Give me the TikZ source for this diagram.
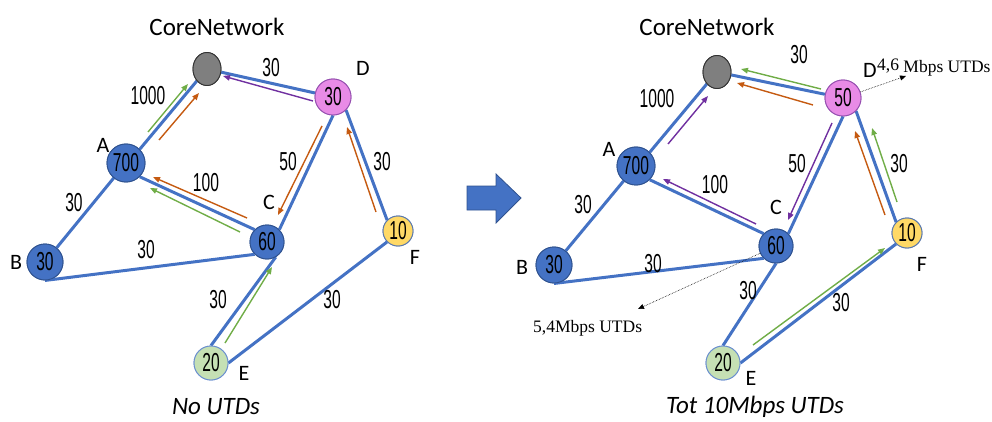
\documentclass[tikz,border=0pt]{standalone}
\usepackage{fontspec}
\setmainfont{Carlito}
\newfontfamily\numfont[FakeStretch=0.6]{Liberation Sans}
\newfontfamily\notefont{Liberation Serif}
\usetikzlibrary{arrows.meta,shapes.geometric}
\definecolor{eblue}{HTML}{4472C4}
\definecolor{dblue}{HTML}{2F528F}
\definecolor{vfill}{HTML}{E88BE6}
\definecolor{vline}{HTML}{9650B0}
\definecolor{yfill}{HTML}{FFD966}
\definecolor{gfill}{HTML}{C5E0B4}
\definecolor{cgray}{HTML}{7F7F7F}
\definecolor{agreen}{HTML}{70AD47}
\definecolor{aorange}{HTML}{C55A11}
\definecolor{apurple}{HTML}{7030A0}
\tikzset{
  num/.style={font=\numfont\fontsize{26}{26}\selectfont, inner sep=0pt},
  nd/.style={circle, inner sep=0pt, line width=0.9pt},
  bluend/.style={nd, fill=eblue, draw=dblue},
  violetnd/.style={nd, minimum size=36pt, fill=vfill, draw=vline},
  yellownd/.style={nd, minimum size=30pt, fill=yfill, draw=eblue!70!gray},
  greennd/.style={nd, minimum size=34pt, fill=gfill, draw=eblue!80},
  corend/.style={ellipse, inner sep=0pt, minimum width=28pt, minimum height=33pt, fill=cgray, draw=black!80, line width=0.9pt},
  letter/.style={font=\fontsize{22}{22}\selectfont, inner sep=0pt},
  title/.style={font=\fontsize{25}{25}\selectfont, inner sep=0pt},
  captionit/.style={font=\itshape\fontsize{25}{25}\selectfont, inner sep=0pt},
  link/.style={draw=eblue, line width=3pt},
  flow/.style={line width=1.4pt, -{Triangle[length=7pt,width=5.5pt]}},
  note/.style={font=\notefont\fontsize{17.5}{17.5}\selectfont, inner sep=0pt},
  ptr/.style={densely dotted, line width=0.6pt, -{Triangle[length=6pt,width=5pt]}}
}
\begin{document}
\begin{tikzpicture}[x=1pt,y=-1pt]
\useasboundingbox (0,0) rectangle (992,422);
% ---------------- LEFT ----------------
\node[title] (t1) at (217,27) {CoreNetwork};
\node[corend] (core) at (207,69) {};
\node[violetnd] (D) at (333,97) {};
\node[bluend, minimum size=38pt] (A) at (126,163) {};
\node[bluend, minimum size=34pt] (C) at (267,242) {};
\node[bluend, minimum size=36pt] (B) at (45,262) {};
\node[yellownd] (F) at (398,231) {};
\node[greennd] (E) at (211,363) {};
% edges
\draw[link] (A.north east) -- (core.south west);
\draw[link] (core) -- (D);
\draw[link] (A.south east) -- (C.north west);
\draw[link] (A) -- (B);
\draw[link] (B.south) -- (C.south west);
\draw[link] (D.south) -- (C.north east);
\draw[link] (D.south east) -- (F.north west);
\draw[link] (C.-60) -- (E.north);
\draw[link] (E.east) -- (F.south west);
% nodes on top
\node[corend] at (core) {};
\node[violetnd, label={[num]center:30}] at (D) {};
\node[bluend, minimum size=38pt, label={[num]center:700}] at (A) {};
\node[bluend, minimum size=34pt, label={[num]center:60}] at (C) {};
\node[bluend, minimum size=36pt, label={[num]center:30}] at (B) {};
\node[yellownd, label={[num]center:10}] at (F) {};
\node[greennd, label={[num]center:20}] at (E) {};
% letters
\node[letter] (lA) at (103,145) {A};
\node[letter] (lD) at (363,68) {D};
\node[letter] (lC) at (269,202) {C};
\node[letter] (lB) at (16,262) {B};
\node[letter] (lF) at (415,257) {F};
\node[letter] (lE) at (244,373) {E};
% edge labels
\node[num] (w1) at (148,96) {1000};
\node[num] (w2) at (271,68) {30};
\node[num] (w3) at (288,162) {50};
\node[num] (w4) at (382,162) {30};
\node[num] (w5) at (206,183) {100};
\node[num] (w6) at (74,203) {30};
\node[num] (w7) at (146,250) {30};
\node[num] (w8) at (218,300) {30};
\node[num] (w9) at (332,300) {30};
% flows
\draw[flow, agreen] (148,132) -- (188,84);
\draw[flow, aorange] (159,140) -- (199,93);
\draw[flow, apurple] (313,101) -- (223,76);
\draw[flow, aorange] (322,126) -- (278,215);
\draw[flow, aorange] (376,212) -- (347,127);
\draw[flow, aorange] (247,218) -- (153,177);
\draw[flow, agreen] (240,232) -- (150,188);
\draw[flow, agreen] (225,343) -- (272,267);
\node[captionit] (cap1) at (216,407) {No UTDs};
% ---------------- ARROW ----------------
\draw[fill=eblue, draw=dblue, line width=0.8pt] (467,186) -- (496,186) -- (496,174) -- (521,198) -- (496,223) -- (496,210) -- (467,210) -- cycle;
% ---------------- RIGHT ----------------
\node[title] (t2) at (707,27) {CoreNetwork};
\node[corend] (core2) at (717,72) {};
\node[violetnd] (D2) at (843,98) {};
\node[bluend, minimum size=38pt] (A2) at (636,166) {};
\node[bluend, minimum size=34pt] (C2) at (776,246) {};
\node[bluend, minimum size=36pt] (B2) at (554,265) {};
\node[yellownd] (F2) at (907,233) {};
\node[greennd] (E2) at (723,363) {};
\draw[link] (A2.north east) -- (core2.south west);
\draw[link] (core2) -- (D2);
\draw[link] (A2.south east) -- (C2.north west);
\draw[link] (A2) -- (B2);
\draw[link] (B2.south) -- (C2.south west);
\draw[link] (D2.south) -- (C2.north east);
\draw[link] (D2.south east) -- (F2.north west);
\draw[link] (C2.south) -- (E2.north);
\draw[link] (E2.east) -- (F2.south west);
\node[corend] at (core2) {};
\node[violetnd, label={[num]center:50}] at (D2) {};
\node[bluend, minimum size=38pt, label={[num]center:700}] at (A2) {};
\node[bluend, minimum size=34pt, label={[num]center:60}] at (C2) {};
\node[bluend, minimum size=36pt, label={[num]center:30}] at (B2) {};
\node[yellownd, label={[num]center:10}] at (F2) {};
\node[greennd, label={[num]center:20}] at (E2) {};
\node[letter] (lA2) at (609,149) {A};
\node[letter] (lD2) at (870,70) {D};
\node[letter] (lC2) at (776,207) {C};
\node[letter] (lB2) at (522,267) {B};
\node[letter] (lF2) at (922,264) {F};
\node[letter] (lE2) at (751,378) {E};
\node[num] (v1) at (657,99) {1000};
\node[num] (v2) at (799,55) {30};
\node[num] (v3) at (797,164) {50};
\node[num] (v4) at (899,164) {30};
\node[num] (v5) at (715,185) {100};
\node[num] (v6) at (583,205) {30};
\node[num] (v7) at (653,264) {30};
\node[num] (v8) at (748,291) {30};
\node[num] (v9) at (841,303) {30};
\draw[flow, apurple] (668,144) -- (708,96);
\draw[flow, agreen] (821,89) -- (741,69);
\draw[flow, aorange] (813,105) -- (737,83);
\draw[flow, apurple] (832,123) -- (788,220);
\draw[flow, aorange] (885,215) -- (855,131);
\draw[flow, agreen] (897,202) -- (872,128);
\draw[flow, apurple] (756,224) -- (663,179);
\draw[flow, agreen] (753,345) -- (885,248);
% UTD notes
\coordinate (dtip) at (906,76);
\draw[ptr] (D2) -- (dtip);
\node[note, anchor=base west] (n46) at (877,73) {\raisebox{2pt}{4,6} Mbps UTDs};
\coordinate (ctip) at (638,309);
\draw[ptr] (C2) -- (ctip);
\node[note, anchor=base west] (n54) at (533,332) {5,4Mbps UTDs};
\node[captionit] (cap2) at (755,407) {Tot 10Mbps UTDs};
\end{tikzpicture}
\end{document}
